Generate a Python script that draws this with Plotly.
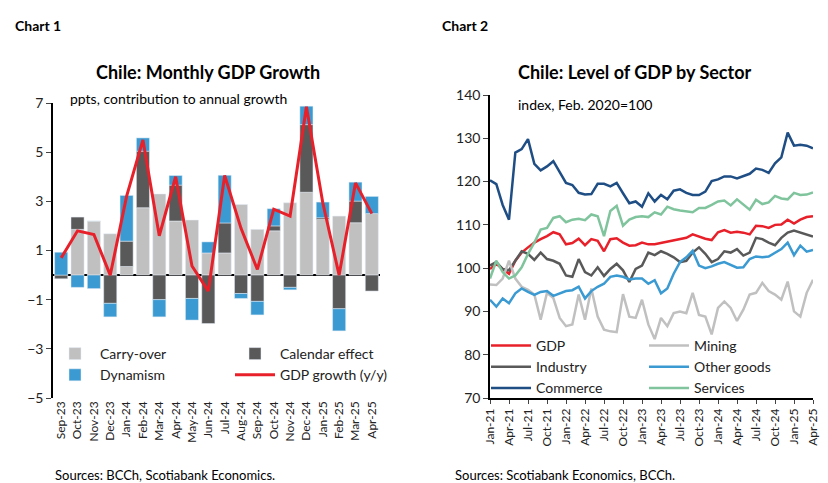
import plotly.graph_objects as go

months1 = ["Sep-23","Oct-23","Nov-23","Dec-23","Jan-24","Feb-24","Mar-24","Apr-24","May-24","Jun-24",
           "Jul-24","Aug-24","Sep-24","Oct-24","Nov-24","Dec-24","Jan-25","Feb-25","Mar-25","Apr-25"]
carry = [0, 1.86, 2.2, 1.68, 0.35, 2.74, 3.3, 2.2, 2.24, 0.9, 0.9, 2.87, 1.86, 1.8, 2.94, 3.37, 2.26, 2.4, 2.13, 2.5]
calendar = [-0.15, 0.5, 0, -1.15, 1.03, 2.3, -1.0, 1.46, -0.95, -1.97, 1.22, -0.75, -1.07, 0.2, -0.5, 2.75, 0.07, -1.37, 0.88, -0.65]
dynamism = [0.93, -0.5, -0.55, -0.55, 1.86, 0.54, -0.7, 0.39, -0.88, 0.45, 1.94, -0.2, -0.55, 0.7, -0.1, 0.75, 0.64, -0.9, 0.77, 0.7]
gdp_yy = [0.7, 1.8, 1.65, 0.0, 3.2, 5.5, 1.6, 4.0, 0.37, -0.65, 4.05, 1.9, 0.23, 2.68, 2.4, 6.85, 2.94, 0.0, 3.75, 2.5]

mnames = ["Jan","Feb","Mar","Apr","May","Jun","Jul","Aug","Sep","Oct","Nov","Dec"]
months2 = [f"{mnames[i % 12]}-{21 + i // 12}" for i in range(52)]
tick2 = months2[::3]

gdp_lvl = [99.8,101,99.8,98.7,101.7,103.6,104.8,105.9,106.7,107.4,108.3,107.8,105.5,105.8,106.8,105.3,106.7,106.3,103.9,106.7,
           106.9,105.9,105.2,105.3,105.9,105.5,105.5,105.8,106.1,106.5,106.8,107,107.8,107.3,106.8,106.5,108.3,108.8,108.2,108.4,
           108.2,107.8,109.8,109.7,109.3,110,110.1,111.2,110.3,111.2,111.8,112]
mining = [96.2,96.1,97.6,101.7,97.6,95.7,95,93.9,88.1,94.3,93.1,88.5,86.6,87,93.9,88.1,95.3,88.8,85.8,85.4,
          85.2,94,88.8,88.5,92.7,87,83.6,88.5,86.6,89.6,90,89.6,94.3,89.2,88.8,84.7,90.8,92.3,90.8,87.8,
          90.4,93.9,94.3,96.6,94.7,93.9,92.7,96.9,90,88.8,94.3,97.3]
industry = [100.6,101.4,99.8,99.5,101.7,103.9,103.3,101.9,103.6,102.1,101.7,101,98.3,98,102.1,99.1,98.3,100.2,98.2,99.8,
            101,99.5,96.8,99.8,100.6,103.6,103,103.9,103.3,102.5,101.4,101.7,103.6,104.8,103.3,101.4,102.1,103.9,103.6,104.4,
            102.9,103.6,107,106.7,105.9,105.3,107,108.2,108.7,108.2,107.7,107.3]
other_goods = [92.7,91.1,93,91.9,94.2,95.3,94.5,93.8,94.5,94.7,93.6,94.2,94.7,94.9,95.7,93,94.7,95.7,96.4,98,
               98.3,98,97.4,97.6,97.6,96.4,97.2,94.2,95.3,98.7,101.4,102.5,104,100.6,100,100.4,101,101.4,100.8,100.1,
               100.2,102.1,102.7,102.5,102.7,103.5,104.4,105.9,103,105.2,103.8,104.2]
commerce = [120.3,119.4,114.6,111.2,126.7,127.5,129.8,124.1,122.6,123.5,124.7,122.2,119.7,119.2,117.4,117,117.1,119.5,119.5,118.9,
            119.7,117.3,115,115.4,114.2,117.3,115.4,116.9,115.9,117.9,118.2,117.4,116.9,116.9,117.7,120.1,120.5,121.2,121.2,120.7,
            121.2,121.8,123,122.7,122,124.2,125.6,131.3,128.3,128.5,128.3,127.7]
services = [97.6,101.7,99.1,97.6,98.3,100.2,103.3,105.9,108.9,109.3,111.6,112,110.6,111.2,111.4,111.1,112.4,112,107.4,113.2,
            114.4,109.8,111.2,111.8,112,111.8,112.9,112.4,114.2,113.6,113.3,113.1,112.9,113.9,113.9,114.6,115.4,115.6,114.5,115.9,
            114.6,113.5,115.8,114.8,115.2,116.7,116.1,115.9,117.4,116.9,117,117.5]

GREY = "#c0c0c0"; DARK = "#595959"; BLUE = "#3a9ad1"; RED = "#e8202a"; NAVY = "#1f4e85"; GREEN = "#7fc49c"

fig = go.Figure()
fig.add_bar(x=months1, y=carry, name="Carry-over", marker_color=GREY, legend="legend")
fig.add_bar(x=months1, y=calendar, name="Calendar effect", marker_color=DARK, legend="legend2")
fig.add_bar(x=months1, y=dynamism, name="Dynamism", marker_color=BLUE, legend="legend")
fig.add_scatter(x=months1, y=gdp_yy, name="GDP growth (y/y)", mode="lines", line=dict(color=RED, width=3), legend="legend2")

for name, ys, col, lg in [("GDP", gdp_lvl, RED, "legend3"), ("Industry", industry, DARK, "legend3"),
                          ("Commerce", commerce, NAVY, "legend3"), ("Mining", mining, GREY, "legend4"),
                          ("Other goods", other_goods, BLUE, "legend4"), ("Services", services, GREEN, "legend4")]:
    fig.add_scatter(x=months2, y=ys, name=name, mode="lines", line=dict(color=col, width=2.5),
                    xaxis="x2", yaxis="y2", legend=lg)

W, H = 828, 483
def px(x): return x / W
def py(y): return 1 - y / H

font = "Lato"
fig.update_layout(
    width=W, height=H, margin=dict(l=0, r=0, t=0, b=0, autoexpand=False),
    paper_bgcolor="white", plot_bgcolor="white",
    font=dict(family=font, size=13, color="#222"),
    barmode="relative", bargap=0.2,
    xaxis=dict(domain=[px(45), px(372)], type="category", tickangle=-90, showline=False, automargin=False,
               ticks="", showgrid=False, tickfont=dict(size=12)),
    yaxis=dict(domain=[py(390), py(95)], range=[-5, 7], tick0=-5, dtick=2, showgrid=False, automargin=False,
               showline=True, linecolor="black", linewidth=1.5, ticks="outside", ticklen=5,
               zeroline=True, zerolinecolor="black", zerolinewidth=2, tickfont=dict(size=14)),
    xaxis2=dict(domain=[px(482), px(805)], type="category", tickangle=-90, tickvals=tick2, automargin=False,
                showline=True, linecolor="black", linewidth=1.5, ticks="outside", ticklen=4,
                showgrid=False, anchor="y2", tickfont=dict(size=12)),
    yaxis2=dict(domain=[py(390), py(87)], range=[70, 140], dtick=10, showgrid=False, anchor="x2", automargin=False,
                showline=True, linecolor="black", linewidth=1.5, ticks="outside", ticklen=5,
                zeroline=False, tickfont=dict(size=14)),
    showlegend=True,
)
lcommon = dict(bgcolor="rgba(0,0,0,0)", font=dict(size=14), tracegroupgap=0, xanchor="left", yanchor="top",
               itemwidth=40)
fig.update_layout(
    legend=dict(x=px(42), y=py(330), **lcommon),
    legend2=dict(x=px(222), y=py(330), **lcommon),
    legend3=dict(x=px(478), y=py(322), **lcommon),
    legend4=dict(x=px(636), y=py(322), **lcommon),
)

ann = [
    dict(x=px(5), y=py(18), text="<b>Chart 1</b>", size=14, xanchor="left"),
    dict(x=px(432), y=py(18), text="<b>Chart 2</b>", size=14, xanchor="left"),
    dict(x=px(200), y=py(64), text="<b>Chile: Monthly GDP Growth</b>", size=18, xanchor="center"),
    dict(x=px(627), y=py(64), text="<b>Chile: Level of GDP by Sector</b>", size=18, xanchor="center"),
    dict(x=px(60), y=py(91), text="ppts, contribution to annual growth", size=14, xanchor="left"),
    dict(x=px(508), y=py(97), text="index, Feb. 2020=100", size=14, xanchor="left"),
    dict(x=px(45), y=py(467), text="Sources: BCCh, Scotiabank Economics.", size=13, xanchor="left"),
    dict(x=px(445), y=py(467), text="Sources: Scotiabank Economics, BCCh.", size=13, xanchor="left"),
]
for a in ann:
    fig.add_annotation(x=a["x"], y=a["y"], xref="paper", yref="paper", text=a["text"], showarrow=False,
                       xanchor=a["xanchor"], yanchor="middle", font=dict(family=font, size=a["size"], color="black"))

fig.write_html("out.html")
